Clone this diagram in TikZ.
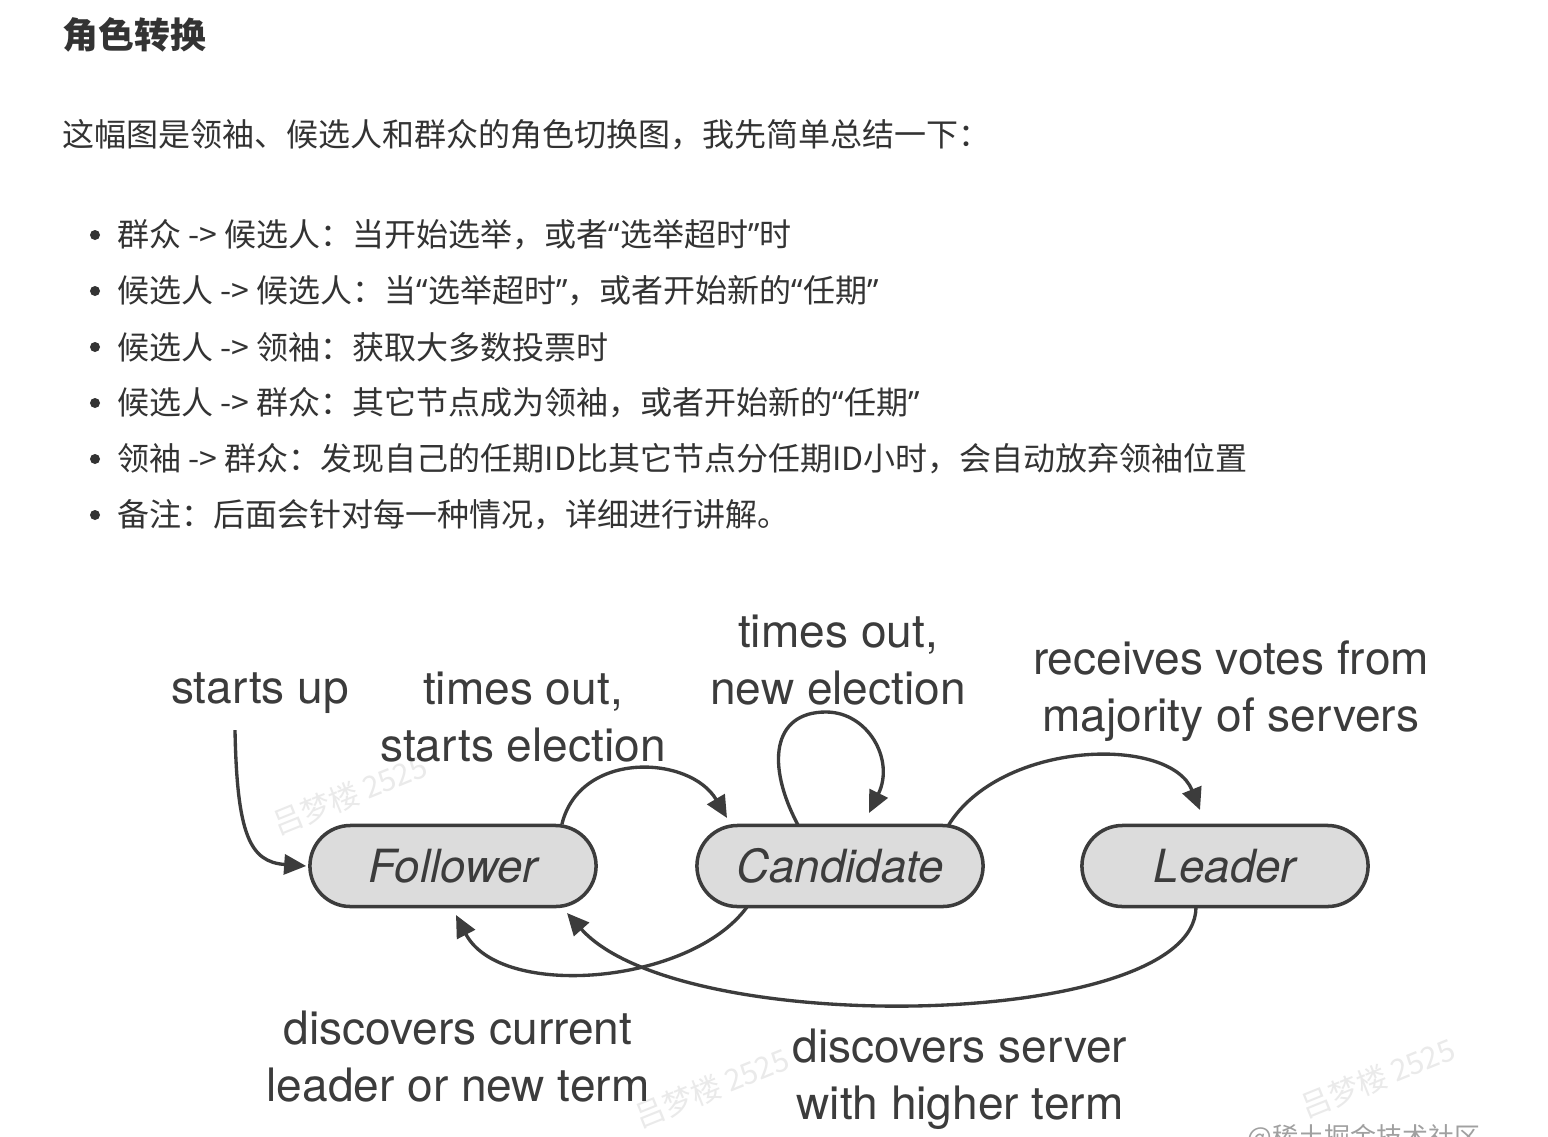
\documentclass[tikz,border=0pt]{standalone}
\usepackage{fontspec}
\usetikzlibrary{arrows.meta,shapes.misc}

\newfontfamily\cjk{Noto Sans CJK SC}
\newfontfamily\latn{Noto Sans}
\newfontfamily\diag{TeX Gyre Heros}
\newcommand\quo[1]{{\latn“}#1{\latn”}}

\definecolor{txtgray}{HTML}{333333}
\definecolor{inkgray}{HTML}{3C3C3C}
\definecolor{fillgray}{HTML}{DCDCDC}
\definecolor{markgray}{HTML}{EAEAEA}
\definecolor{sitegray}{HTML}{A0A0A0}

\tikzset{
    state/.style={rounded rectangle, draw=inkgray, line width=1pt, fill=fillgray,
        minimum width=2.86cm, minimum height=0.81cm, inner sep=0pt,
        text=inkgray, font=\diag\itshape\fontsize{13}{16}\selectfont},
    lbl/.style={align=center, inner sep=0pt, text=inkgray,
        font=\diag\fontsize{13.1}{16.2}\selectfont},
    arr/.style={draw=inkgray, line width=0.95pt, -{Triangle[length=0.22cm,width=0.2cm]}},
    body/.style={anchor=west, inner sep=0pt, text=txtgray,
        font=\cjk\fontsize{9.1}{11}\selectfont},
    wmark/.style={rotate=22, inner sep=0pt, text=markgray,
        font=\cjk\fontsize{8.5}{9}\selectfont},
}

\begin{document}
\begin{tikzpicture}[x=0.01cm, y=0.01cm]
    \useasboundingbox[fill=white] (0,0) rectangle (1548,-1136);

    % Heading and intro
    \node[body, font=\cjk\bfseries\fontsize{10.2}{12}\selectfont] (title) at (62,-35) {角色转换};
    \node[body] (intro) at (62,-135) {这幅图是领袖、候选人和群众的角色切换图，我先简单总结一下：};

    % Bullet list
    \foreach \y/\t [count=\i] in {
        235/{群众 -> 候选人：当开始选举，或者\quo{选举超时}时},
        291/{候选人 -> 候选人：当\quo{选举超时}，或者开始新的\quo{任期}},
        347/{候选人 -> 领袖：获取大多数投票时},
        403/{候选人 -> 群众：其它节点成为领袖，或者开始新的\quo{任期}},
        459/{领袖 -> 群众：发现自己的任期ID比其它节点分任期ID小时，会自动放弃领袖位置},
        515/{备注：后面会针对每一种情况，详细进行讲解。}} {
        \fill[txtgray] (95,-\y) circle[radius=0.05cm];
        \node[body] (item\i) at (117,-\y) {\t};
    }

    % Watermarks
    \node[wmark] (wm1) at (350,-795) {吕梦楼 2525};
    \node[wmark] (wm2) at (712,-1088) {吕梦楼 2525};
    \node[wmark] (wm3) at (1378,-1078) {吕梦楼 2525};
    \node[anchor=north west, inner sep=0pt, text=sitegray,
        font=\cjk\fontsize{7.4}{8}\selectfont] (site) at (1247,-1124) {@稀土掘金技术社区};

    % States
    \node[state] (fol) at (453,-866) {Follower};
    \node[state] (can) at (840,-866) {Candidate};
    \node[state] (lea) at (1225,-866) {Leader};

    % Transition labels
    \node[lbl] (su) at (260,-693) {starts up};
    \node[lbl] (to1) at (523,-717) {times out,\\starts election};
    \node[lbl] (to2) at (838,-660) {times out,\\new election};
    \node[lbl] (rv) at (1231,-691) {receives votes from\\majority of servers};
    \node[lbl] (dc) at (458,-1057) {discovers current\\leader or new term};
    \node[lbl] (ds) at (960,-1079) {discovers server\\with higher term};

    % Transitions
    \draw[arr] ([shift={(-25,-16)}]su.south) .. controls (237,-835) and (250,-862) .. ([xshift=-0.02cm]fol.west);
    \draw[arr] (fol.21) .. controls (580,-750) and (690,-755) .. ([shift={(-113,48)}]can.center);
    \draw[arr] ([shift={(-42,41)}]can.center) .. controls (766,-765) and (772,-712) .. (826,-712)
        .. controls (868,-712) and (895,-760) .. ([shift={(29,53)}]can.center);
    \draw[arr] ([shift={(108,40)}]can.center) .. controls (1000,-740) and (1170,-735) .. ([shift={(-25,56)}]lea.center);
    \draw[arr] ([shift={(-93,-41)}]can.center) .. controls (690,-985) and (500,-1000) .. ([shift={(3,-49)}]fol.center);
    \draw[arr] ([shift={(-29,-41)}]lea.center) .. controls (1196,-1030) and (680,-1040) .. ([shift={(114,-47)}]fol.center);
\end{tikzpicture}
\end{document}
